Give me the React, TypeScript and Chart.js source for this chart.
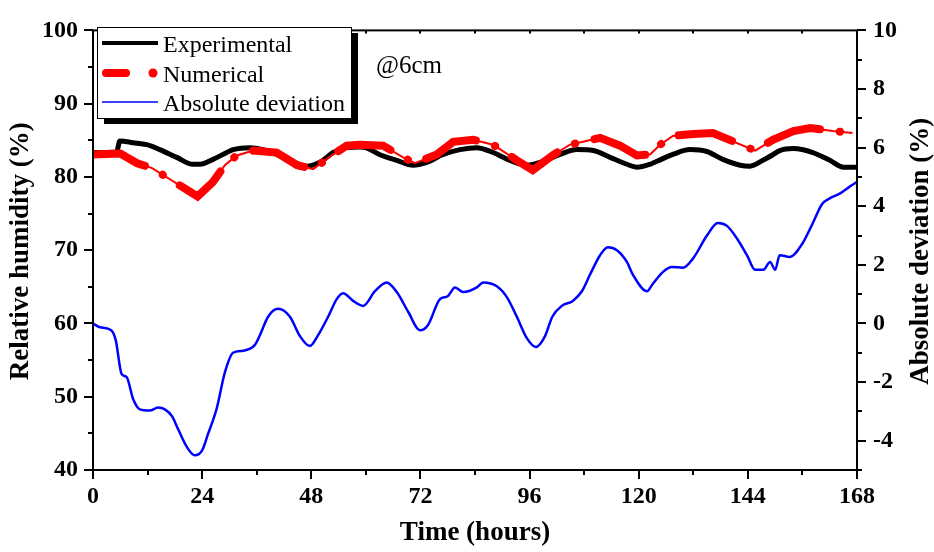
import React, { useEffect, useRef } from 'react';
import { Chart, registerables } from 'chart.js';
Chart.register(...registerables);

// ---------- data ----------
const seriesLabels = ['Experimental', 'Numerical', 'Absolute deviation'];
const annotationText = '@6cm';
const xTitle = 'Time (hours)';
const yTitle = 'Relative humidity (%)';
const y2Title = 'Absolute deviation (%)';

const xTickValues = [0, 24, 48, 72, 96, 120, 144, 168];

const expHours = [0, 3, 5.2, 5.9, 8.8, 11.8, 14.7, 18.4, 22, 23.5, 26.4, 29.4, 30.8, 34.5, 37.4, 40.4, 43.3, 47, 49.9, 52.8, 55.8, 58.7, 60, 63, 66.8, 70.4, 73.4, 77, 80.7, 84.4, 88, 91.7, 95.4, 99, 102.7, 106.4, 110, 113.7, 117.4, 119.6, 122.5, 124, 127.5, 131.3, 135, 138.5, 142.3, 144.5, 147.3, 149.6, 151, 154, 158.3, 162, 165, 168];
const expValues = [83.33, 83.33, 83.4, 84.9, 84.67, 84.4, 83.73, 82.67, 81.73, 81.73, 82.4, 83.33, 83.73, 84.0, 83.73, 83.07, 82.27, 81.47, 82.0, 83.33, 84.0, 84.1, 84.0, 83.07, 82.27, 81.6, 82.0, 83.07, 83.73, 84.0, 83.33, 82.27, 81.6, 82.13, 83.07, 83.73, 83.6, 82.67, 81.73, 81.33, 81.73, 82.13, 83.07, 83.73, 83.47, 82.4, 81.6, 81.47, 82.27, 83.07, 83.6, 83.87, 83.33, 82.27, 81.33, 81.33];

const numHours = [0, 6, 9.7, 13, 23, 26.4, 29, 31.5, 35.2, 40.4, 44.9, 48.4, 52.8, 55.8, 58.7, 63.8, 68.2, 70.8, 75.6, 79.2, 83.6, 88, 93.2, 96.7, 101, 104.9, 111.5, 115.9, 119.6, 122.5, 124.7, 127.5, 132, 136.3, 145.6, 149.5, 154, 157.7, 162.7, 167];
const numValues = [83.07, 83.2, 81.87, 81.2, 77.33, 79.33, 81.6, 82.9, 83.6, 83.33, 81.6, 81.07, 83.07, 84.27, 84.4, 84.27, 82.67, 81.87, 83.07, 84.8, 85.07, 84.4, 82.27, 80.93, 82.93, 84.4, 85.33, 84.27, 82.93, 83.07, 84.4, 85.6, 85.87, 86.0, 83.6, 85.07, 86.27, 86.67, 86.27, 86.0];

const devHours = [0, 1.5, 4, 5, 6.3, 7.4, 8.8, 10.3, 12.5, 14.3, 15.8, 17.4, 18.7, 20.7, 22.4, 24, 25.3, 27.2, 29, 30.8, 33, 35.6, 36.7, 38.5, 40.7, 43.3, 45.5, 47.7, 49.5, 51.7, 53.6, 55, 57.2, 59.4, 62, 64.6, 66.8, 69.3, 71.9, 73.6, 76.3, 78, 79.6, 81.4, 84.4, 85.8, 88.8, 91, 93.2, 95.4, 97.4, 99.4, 101, 103.1, 105.5, 107.5, 109.3, 111.5, 113.2, 115.2, 117.4, 118.7, 121.8, 123, 125.4, 127.3, 129.7, 132, 135, 137.4, 139.4, 141.6, 143.8, 145.6, 147.4, 148.9, 150, 151, 153.2, 156, 158.3, 160.3, 162, 164.2, 166.4, 168];
const devValues = [0, -0.13, -0.23, -0.57, -1.73, -1.83, -2.57, -2.93, -2.97, -2.87, -2.93, -3.17, -3.6, -4.23, -4.5, -4.33, -3.77, -2.9, -1.67, -1.0, -0.93, -0.73, -0.4, 0.23, 0.5, 0.23, -0.43, -0.77, -0.4, 0.23, 0.83, 1.03, 0.77, 0.6, 1.1, 1.4, 1.07, 0.4, -0.23, -0.07, 0.83, 0.93, 1.23, 1.07, 1.23, 1.4, 1.27, 0.9, 0.23, -0.5, -0.8, -0.43, 0.23, 0.6, 0.77, 1.1, 1.67, 2.33, 2.6, 2.5, 2.1, 1.67, 1.1, 1.33, 1.77, 1.93, 1.9, 2.23, 3.0, 3.43, 3.33, 2.9, 2.33, 1.83, 1.83, 2.1, 1.83, 2.33, 2.27, 2.73, 3.43, 4.07, 4.27, 4.43, 4.67, 4.83];

const pts = (h: number[], v: number[]) => h.map((x, i) => ({ x, y: v[i] }));

const SERIF = '"Liberation Serif", "Times New Roman", serif';

const decorPlugin = {
  id: 'decor',
  afterDraw(chart: any) {
    const { ctx, chartArea: a, scales } = chart;
    const sx = scales.x, sy = scales.y, sy2 = scales.y2;
    ctx.save();
    // frame
    ctx.strokeStyle = '#000';
    ctx.lineWidth = 2;
    ctx.strokeRect(a.left, a.top, a.right - a.left, a.bottom - a.top);
    // ticks
    ctx.beginPath();
    for (let v = 0; v <= 168; v += 12) {
      const px = Math.round(sx.getPixelForValue(v));
      const len = v % 24 === 0 ? 9 : 5;
      ctx.moveTo(px, a.bottom);
      ctx.lineTo(px, a.bottom + len);
      ctx.moveTo(px, a.top);
      ctx.lineTo(px, a.top + 3);
    }
    for (let v = 40; v <= 100; v += 5) {
      const py = Math.round(sy.getPixelForValue(v));
      const len = v % 10 === 0 ? 9 : 5;
      ctx.moveTo(a.left, py);
      ctx.lineTo(a.left - len, py);
    }
    for (let v = -5; v <= 10; v += 1) {
      const py = Math.round(sy2.getPixelForValue(v));
      const len = v % 2 === 0 ? 9 : 5;
      ctx.moveTo(a.right, py);
      ctx.lineTo(a.right + len, py);
    }
    ctx.stroke();

    // axis titles
    ctx.fillStyle = '#000';
    ctx.font = `bold 27px ${SERIF}`;
    ctx.textAlign = 'center';
    ctx.textBaseline = 'alphabetic';
    ctx.fillText(xTitle, (a.left + a.right) / 2, 540);
    ctx.save();
    ctx.translate(28, (a.top + a.bottom) / 2 + 1);
    ctx.rotate(-Math.PI / 2);
    ctx.fillText(yTitle, 0, 0);
    ctx.restore();
    ctx.save();
    ctx.translate(928, (a.top + a.bottom) / 2 + 1);
    ctx.rotate(-Math.PI / 2);
    ctx.fillText(y2Title, 0, 0);
    ctx.restore();

    // annotation
    ctx.font = `25px ${SERIF}`;
    ctx.textAlign = 'left';
    ctx.fillText(annotationText, 376, 73);

    // legend box with shadow
    const bx = 97, by = 27, bw = 254, bh = 91;
    ctx.fillStyle = '#000';
    ctx.fillRect(bx + 7, by + 6, bw, bh);
    ctx.fillStyle = '#fff';
    ctx.fillRect(bx, by, bw, bh);
    ctx.lineWidth = 1;
    ctx.strokeStyle = '#000';
    ctx.strokeRect(bx + 0.5, by + 0.5, bw, bh);

    const rows = [43, 73, 102];
    // experimental
    ctx.beginPath();
    ctx.lineWidth = 4;
    ctx.strokeStyle = '#000';
    ctx.moveTo(102, rows[0]);
    ctx.lineTo(158, rows[0]);
    ctx.stroke();
    // numerical
    ctx.beginPath();
    ctx.lineWidth = 8;
    ctx.lineCap = 'round';
    ctx.strokeStyle = '#ff0000';
    ctx.moveTo(106, rows[1]);
    ctx.lineTo(126, rows[1]);
    ctx.stroke();
    ctx.beginPath();
    ctx.fillStyle = '#ff0000';
    ctx.arc(153, rows[1], 4.5, 0, Math.PI * 2);
    ctx.fill();
    ctx.lineCap = 'butt';
    // deviation
    ctx.beginPath();
    ctx.lineWidth = 1.5;
    ctx.strokeStyle = '#0000ff';
    ctx.moveTo(102, rows[2]);
    ctx.lineTo(158, rows[2]);
    ctx.stroke();

    ctx.fillStyle = '#000';
    ctx.font = `24px ${SERIF}`;
    ctx.textAlign = 'left';
    ctx.textBaseline = 'alphabetic';
    seriesLabels.forEach((t, i) => ctx.fillText(t, 163, rows[i] + 9));
    ctx.restore();
  },
};

export default function App() {
  const ref = useRef<HTMLCanvasElement | null>(null);
  useEffect(() => {
    if (!ref.current) return;
    const tickFont = { family: SERIF, size: 24, weight: 'bold' as const };
    const chart = new Chart(ref.current, {
      type: 'line',
      data: {
        datasets: [
          {
            label: seriesLabels[1],
            data: pts(numHours, numValues),
            borderColor: '#ff0000',
            borderWidth: 8,
            borderDash: [55, 20, 0.1, 20],
            borderCapStyle: 'round',
            pointRadius: 0,
            tension: 0,
            yAxisID: 'y',
          },
          {
            label: seriesLabels[1] + ' (line)',
            data: pts(numHours, numValues),
            borderColor: '#ff0000',
            borderWidth: 2,
            pointRadius: 0,
            tension: 0,
            yAxisID: 'y',
          },
          {
            label: seriesLabels[0],
            data: pts(expHours, expValues),
            borderColor: '#000000',
            borderWidth: 5,
            pointRadius: 0,
            cubicInterpolationMode: 'monotone',
            yAxisID: 'y',
          },
          {
            label: seriesLabels[2],
            data: pts(devHours, devValues),
            borderColor: '#0000ff',
            borderWidth: 2.5,
            pointRadius: 0,
            cubicInterpolationMode: 'monotone',
            yAxisID: 'y2',
          },
        ],
      },
      options: {
        responsive: false,
        animation: false,
        devicePixelRatio: 1,
        layout: { padding: { top: 20, left: 0, right: 0, bottom: 0 } },
        plugins: { legend: { display: false }, tooltip: { enabled: false } },
        scales: {
          x: {
            type: 'linear',
            position: 'bottom',
            min: 0,
            max: 168,
            afterBuildTicks: (s: any) => { s.ticks = xTickValues.map((v) => ({ value: v })); },
            ticks: { font: tickFont, color: '#000', padding: 12, maxRotation: 0, autoSkip: false },
            grid: { display: false, drawTicks: false },
            border: { display: false },
            afterFit: (s: any) => { s.height = 82; },
          },
          y: {
            type: 'linear',
            position: 'left',
            min: 40,
            max: 100,
            ticks: { stepSize: 10, font: tickFont, color: '#000', padding: 15 },
            grid: { display: false, drawTicks: false },
            border: { display: false },
            afterFit: (s: any) => { s.width = 93; },
          },
          y2: {
            type: 'linear',
            position: 'right',
            min: -5,
            max: 10,
            ticks: {
              stepSize: 1,
              autoSkip: false,
              font: tickFont,
              color: '#000',
              padding: 16,
              callback: (v: any) => (Number(v) % 2 === 0 ? String(v) : ''),
            },
            grid: { display: false, drawTicks: false },
            border: { display: false },
            afterFit: (s: any) => { s.width = 77; },
          },
        },
      },
      plugins: [decorPlugin],
    } as any);
    return () => chart.destroy();
  }, []);
  return (
    <div style={{ position: 'absolute', left: 0, top: 0, width: 934, height: 552, background: '#fff' }}>
      <canvas ref={ref} width={934} height={552} />
    </div>
  );
}
